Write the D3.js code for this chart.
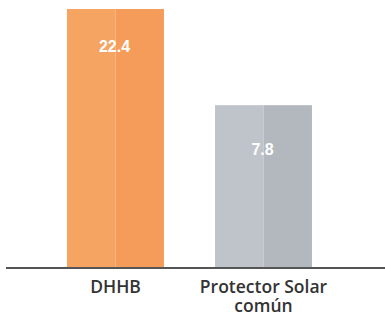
<!DOCTYPE html>
<html>
<head>
<meta charset="utf-8">
<script src="https://cdn.jsdelivr.net/npm/d3@7"></script>
<style>
html,body{margin:0;padding:0;background:#fff;}
svg{display:block;}
</style>
</head>
<body>
<svg id="chart" width="385" height="316"></svg>
<script>
const categories = ["DHHB", "Protector Solar común"];
const values = [22.4, 7.8];
const labelLines = [["DHHB"], ["Protector Solar", "común"]];
const colorsLeft = ["#F5A462", "#BFC4CB"];
const colorsRight = ["#F69C5A", "#B3B8BF"];

const svg = d3.select("#chart");
const baseY = 268;

const x = d3.scaleBand()
  .domain(categories)
  .range([41.5, 337.5])
  .paddingInner(0.345)
  .paddingOuter(0.1725);

const y = d3.scalePow().exponent(0.44)
  .domain([0, 22.4])
  .range([baseY, 9]);

const g = svg.append("g");

const bars = g.selectAll("g.bar").data(categories).enter().append("g").attr("class","bar");

bars.append("rect")
  .attr("x", d => x(d))
  .attr("y", (d,i) => y(values[i]))
  .attr("width", x.bandwidth()/2)
  .attr("height", (d,i) => baseY - y(values[i]))
  .attr("fill", (d,i) => colorsLeft[i]);

bars.append("rect")
  .attr("x", d => x(d) + x.bandwidth()/2)
  .attr("y", (d,i) => y(values[i]))
  .attr("width", x.bandwidth()/2)
  .attr("height", (d,i) => baseY - y(values[i]))
  .attr("fill", (d,i) => colorsRight[i]);

bars.append("text")
  .attr("x", d => x(d) + x.bandwidth()/2 - 1)
  .attr("y", (d,i) => {
    const top = y(values[i]);
    const h = baseY - top;
    return top + 62 - 0.073 * h;
  })
  .attr("text-anchor", "middle")
  .attr("fill", "#fff")
  .attr("font-family", "'Liberation Sans', Arial, sans-serif")
  .attr("font-weight", 700)
  .attr("font-size", 16)
  .text((d,i) => values[i].toFixed(1));

// baseline axis
const axis = d3.axisBottom(x).tickSize(0).tickFormat("");
const ax = svg.append("g").attr("transform", `translate(0,${baseY})`).call(axis);
ax.select(".domain").remove();
svg.append("line")
  .attr("x1", 6).attr("x2", 385)
  .attr("y1", baseY).attr("y2", baseY)
  .attr("stroke", "#555").attr("stroke-width", 2);

const labels = svg.selectAll("text.cat").data(categories).enter().append("text")
  .attr("class","cat")
  .attr("text-anchor","middle")
  .attr("fill","#333")
  .attr("font-family","'Open Sans', sans-serif")
  .attr("font-weight", 600)
  .attr("font-size", 17.5);

labels.each(function(d,i){
  const t = d3.select(this);
  labelLines[i].forEach((line, j) => {
    t.append("tspan")
      .attr("x", x(d) + x.bandwidth()/2)
      .attr("y", 293 + j*19)
      .text(line);
  });
});
</script>
</body>
</html>
